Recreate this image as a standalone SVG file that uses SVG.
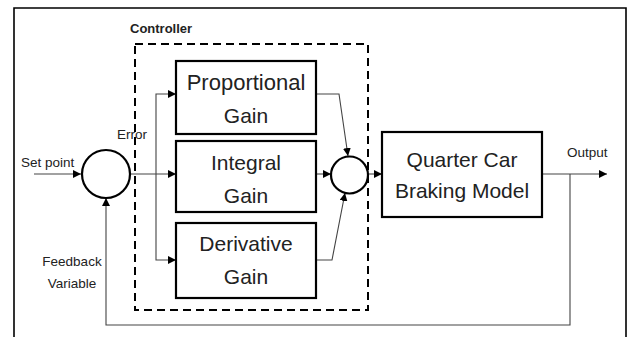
<svg xmlns="http://www.w3.org/2000/svg" width="628" height="337" viewBox="0 0 628 337">
<style>
.box{fill:#fff;stroke:#000;stroke-width:2.2}
.sum{fill:#fff;stroke:#000;stroke-width:2.2}
.big{font-family:"Liberation Sans",Arial,sans-serif;font-size:21px;fill:#222;text-anchor:middle}
.small{font-family:"Liberation Sans",Arial,sans-serif;font-size:13.5px;fill:#222}
.wire{fill:none;stroke:#444;stroke-width:1.1}
</style>
<defs>
<marker id="ah" viewBox="0 0 10 10" refX="10" refY="5" markerWidth="8" markerHeight="8" markerUnits="userSpaceOnUse" orient="auto">
<path d="M0,0 L10,5 L0,10 z" fill="#000"/>
</marker>
</defs>
<rect x="0" y="0" width="628" height="337" fill="#fff"/>
<path d="M14,340 L14,8 L626,8 L626,340" fill="none" stroke="#000" stroke-width="1.6"/>
<g id="controller">
<rect x="135" y="44" width="233" height="266" fill="none" stroke="#000" stroke-width="2" stroke-dasharray="8,5"/>
<text x="130" y="33" class="small" style="font-weight:bold;font-size:13px">Controller</text>
</g>
<g id="connectors">
<path class="wire" d="M34,174 L81,174" marker-end="url(#ah)"/>
<path class="wire" d="M130,174 L176,174" marker-end="url(#ah)"/>
<path class="wire" d="M156,174 L156,94 L176,94" marker-end="url(#ah)"/>
<path class="wire" d="M156,174 L156,260 L176,260" marker-end="url(#ah)"/>
<path class="wire" d="M316,94 L339,94 L348,156" marker-end="url(#ah)"/>
<path class="wire" d="M316,174 L331,174" marker-end="url(#ah)"/>
<path class="wire" d="M316,260 L332,260 L345,193" marker-end="url(#ah)"/>
<path class="wire" d="M368,174 L382,174" marker-end="url(#ah)"/>
<path class="wire" d="M542,174 L607,174" marker-end="url(#ah)"/>
<path class="wire" d="M570,174 L570,325 L106,325 L106,198" marker-end="url(#ah)"/>
</g>
<g id="sum1"><circle class="sum" cx="106" cy="174" r="24"/></g>
<g id="sum2"><circle class="sum" cx="349.5" cy="175" r="18.5"/></g>
<g id="proportional">
<rect class="box" x="176" y="61" width="140" height="73"/>
<text class="big" x="246" y="90" style="font-size:22px">Proportional</text>
<text class="big" x="246" y="123">Gain</text>
</g>
<g id="integral">
<rect class="box" x="176" y="141" width="140" height="71"/>
<text class="big" x="246" y="170">Integral</text>
<text class="big" x="246" y="203">Gain</text>
</g>
<g id="derivative">
<rect class="box" x="176" y="223" width="140" height="75"/>
<text class="big" x="246" y="251">Derivative</text>
<text class="big" x="246" y="284">Gain</text>
</g>
<g id="plant">
<rect class="box" x="382" y="132" width="160" height="85"/>
<text class="big" x="462" y="167">Quarter Car</text>
<text class="big" x="462" y="198">Braking Model</text>
</g>
<g id="labels">
<text class="small" x="21" y="167">Set point</text>
<text class="small" x="117" y="139">Error</text>
<text class="small" x="567" y="157">Output</text>
<text class="small" x="72" y="266" text-anchor="middle">Feedback</text>
<text class="small" x="72" y="288" text-anchor="middle">Variable</text>
</g>
</svg>
